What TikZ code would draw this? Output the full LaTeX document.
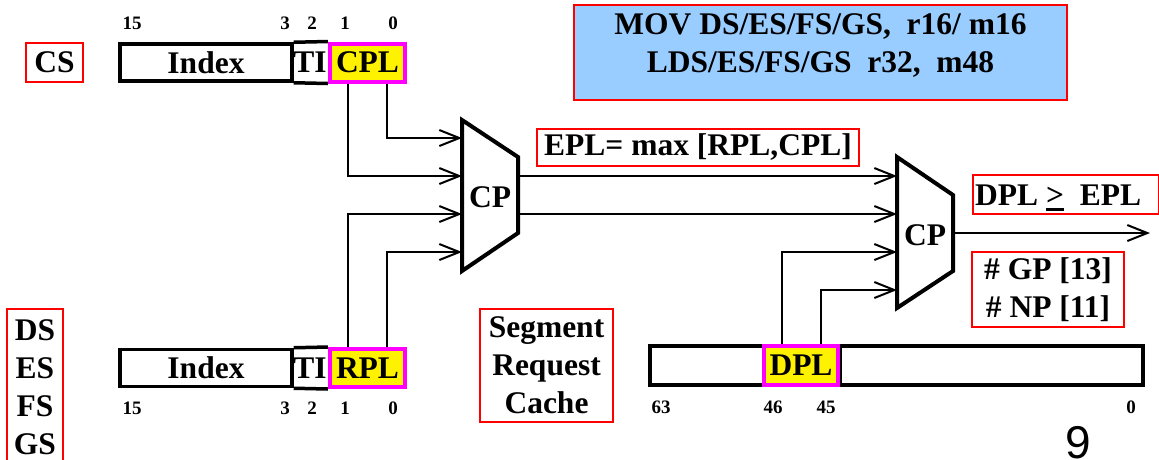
\documentclass[tikz,border=0pt]{standalone}
\usepackage{fontspec}
\setmainfont{Liberation Serif}
\newfontfamily\pagefont{Liberation Sans}
\usetikzlibrary{arrows.meta,calc,backgrounds}
\definecolor{skyfill}{RGB}{153,204,255}
\definecolor{fieldedge}{RGB}{255,0,255}
% underlined ">" used as "greater or equal"
\newcommand\ulgt{\vtop{\hbox{>}\kern2.5pt\hrule height 3pt}}

\begin{document}
\begin{tikzpicture}[x=1pt,y=-1pt,
  every node/.style={font=\fontsize{31.5}{38}\selectfont\bfseries, inner sep=0pt},
  redbox/.style={draw=red, line width=2pt},
  regbox/.style={draw=black, line width=3.5pt},
  regline/.style={draw=black, line width=3.5pt},
  fieldbox/.style={draw=fieldedge, fill=yellow, line width=4pt},
  bitnum/.style={font=\fontsize{19}{19}\selectfont\bfseries},
  wire/.style={line width=2pt},
  arr/.style={wire, -{Straight Barb[length=20pt,width=16pt]}},
  cpbody/.style={draw=black, line width=4pt, line join=miter}
]
\useasboundingbox (0,0) rectangle (1159,459);

% ---------- code segment selector (CS) ----------
\node[redbox, minimum width=57, minimum height=39] (cs) at (54.5,62.5) {CS};
\node[regbox, minimum width=172, minimum height=37] (idxT) at (206,62.5) {Index};
\node (tiT) at (310,62.5) {TI};
\node[fieldbox, minimum width=75, minimum height=38] (cplT) at (367.5,62.5) {CPL};
\begin{scope}[on background layer]
  \draw[regline] (idxT.north east) -- (cplT.north west)
                 (idxT.south east) -- (cplT.south west);
\end{scope}
\node[bitnum] (t15) at (132,23) {15};
\node[bitnum] (t3)  at (285,23) {3};
\node[bitnum] (t2)  at (312,23) {2};
\node[bitnum] (t1)  at (345,23) {1};
\node[bitnum] (t0)  at (393,23) {0};

% ---------- data segment selector ----------
\node[redbox, minimum width=56, minimum height=170, anchor=north] (segregs) at (35,308) {};
\node[align=center] (segnames) at (35,387) {DS\\ES\\FS\\GS};
\node[regbox, minimum width=172, minimum height=37] (idxB) at (206,368) {Index};
\node (tiB) at (310,368) {TI};
\node[fieldbox, minimum width=75, minimum height=38] (rplB) at (367.5,368) {RPL};
\begin{scope}[on background layer]
  \draw[regline] (idxB.north east) -- (rplB.north west)
                 (idxB.south east) -- (rplB.south west);
\end{scope}
\node[bitnum] (b15) at (132,408) {15};
\node[bitnum] (b3)  at (285,408) {3};
\node[bitnum] (b2)  at (312,408) {2};
\node[bitnum] (b1)  at (345,408) {1};
\node[bitnum] (b0)  at (393,408) {0};

% ---------- instruction box ----------
\node[draw=red, line width=2.5pt, fill=skyfill, minimum width=493, minimum height=95] (instr) at (820.5,52.5) {};
\node[align=center] (instrtxt) at (820.5,46) {MOV DS/ES/FS/GS,~~r16/ m16\\LDS/ES/FS/GS~~r32,~~m48};

% ---------- labels ----------
\node[redbox, minimum width=322, minimum height=37] (epl) at (698,147.5) {EPL= max [RPL,CPL]};
\node[redbox, minimum width=186, minimum height=39, anchor=west] (rulebox) at (972,194.5) {};
\node[anchor=base west] (ruletxt) at (975,205) {DPL \ulgt~~EPL};
\node[redbox, minimum width=152, minimum height=75, align=center] (gates) at (1048,289.5) {\# GP [13]\\\# NP [11]};
\node[redbox, minimum width=133, minimum height=113, align=center] (src) at (546.5,365.5) {Segment\\Request\\Cache};

% ---------- descriptor cache register ----------
\node[regbox, minimum width=114, minimum height=39] (descL) at (707,365.5) {};
\node[regbox, minimum width=303, minimum height=39] (descR) at (991.5,365.5) {};
\node[fieldbox, minimum width=74, minimum height=39] (dpl) at (801,365.5) {DPL};
\node[bitnum] (d63) at (661,407) {63};
\node[bitnum] (d46) at (773,407) {46};
\node[bitnum] (d45) at (826,407) {45};
\node[bitnum] (d0)  at (1131,407) {0};

% ---------- first comparator ----------
\coordinate (p1a) at (462,120);
\coordinate (p1b) at (518,157);
\coordinate (p1c) at (518,233);
\coordinate (p1d) at (462,271);
\draw[cpbody] (p1a) -- (p1b) -- (p1c) -- (p1d) -- cycle;
\node (cp1) at (490,197) {CP};
\coordinate (c1i1) at (462,138);
\coordinate (c1i2) at (462,176);
\coordinate (c1i3) at (462,214);
\coordinate (c1i4) at (462,252);
\coordinate (c1o1) at (518,176);
\coordinate (c1o2) at (518,214);

% ---------- second comparator ----------
\coordinate (p2a) at (897,157);
\coordinate (p2b) at (953,195);
\coordinate (p2c) at (953,271);
\coordinate (p2d) at (897,308);
\draw[cpbody] (p2a) -- (p2b) -- (p2c) -- (p2d) -- cycle;
\node (cp2) at (925,235) {CP};
\coordinate (c2i1) at (897,176);
\coordinate (c2i2) at (897,214);
\coordinate (c2i3) at (897,252);
\coordinate (c2i4) at (897,290);
\coordinate (c2o)  at (953,233);
\coordinate (outend) at (1150,233);

% ---------- taps on the privilege fields ----------
\coordinate (cplA) at ($(cplT.south west)!0.25!(cplT.south east)$);
\coordinate (cplB) at ($(cplT.south west)!0.75!(cplT.south east)$);
\coordinate (rplA) at ($(rplB.north west)!0.25!(rplB.north east)$);
\coordinate (rplBb) at ($(rplB.north west)!0.75!(rplB.north east)$);
\coordinate (dplA) at ($(dpl.north west)!0.25!(dpl.north east)$);
\coordinate (dplB) at ($(dpl.north west)!0.75!(dpl.north east)$);

% ---------- wires ----------
\draw[arr] (cplA) |- (c1i2);
\draw[arr] (cplB) |- (c1i1);
\draw[arr] (rplA) |- (c1i3);
\draw[arr] (rplBb) |- (c1i4);
\draw[arr] (c1o1) -- (c2i1);
\draw[arr] (c1o2) -- (c2i2);
\draw[arr] (dplA) |- (c2i3);
\draw[arr] (dplB) |- (c2i4);
\draw[arr] (c2o) -- (outend);

% ---------- page number ----------
\node[font=\pagefont\fontsize{46}{46}\selectfont] (pagenum) at (1078,443) {9};
\end{tikzpicture}
\end{document}
